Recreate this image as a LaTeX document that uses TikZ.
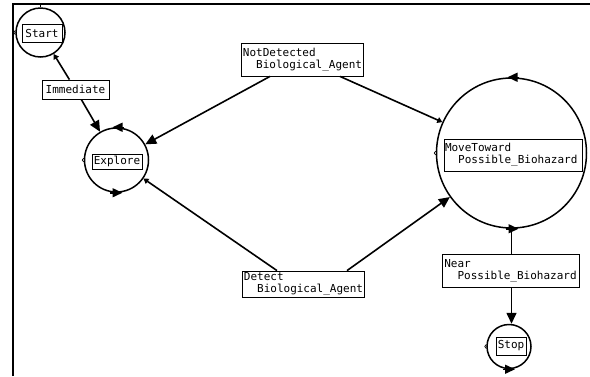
\documentclass[tikz,border=0pt]{standalone}
\usepackage{fontspec}
\newfontfamily\lbfont{DejaVu Sans Mono}
\usetikzlibrary{arrows.meta}
\begin{document}
\begin{tikzpicture}[x=1pt,y=1pt,
  state/.style={circle, draw, line width=1.5pt, inner sep=0pt},
  lbl/.style={draw, line width=0.8pt, fill=white, font=\lbfont\fontsize{11}{12}\selectfont, inner xsep=1pt, inner ysep=1pt, align=left},
  conn/.style={line width=1.6pt},
  tip/.style={-{Triangle[length=11pt,width=10pt]}},
  tail/.style={{Triangle[length=5pt,width=6pt]}-},
  tailtip/.style={{Triangle[length=5pt,width=6pt]}-{Triangle[length=11pt,width=10pt]}},
  mk/.style={line width=1.5pt, -{Triangle[length=10pt,width=9pt]}},
  tick/.style={line width=0.7pt}
]
\useasboundingbox (0,0) rectangle (590,-376);
\draw[line width=1.3pt] (13,-376) -- (13,-4) -- (590,-4);

% states
\node[state, minimum size=49pt] (start) at (40.5,-32.5) {};
\node[state, minimum size=64pt] (explore) at (116.5,-160) {};
\node[state, minimum size=150pt] (move) at (511.5,-153) {};
\node[state, minimum size=44pt] (stop) at (509,-346.5) {};

% circle markers
\draw[tick] (start.north) -- ++(0,2);
\draw[tick] ([yshift=-2pt]start.west) -- ++(-1.5,2) -- ++(1.5,2);
\draw[tick] ([yshift=-2pt]explore.west) -- ++(-1.5,2) -- ++(1.5,2);
\draw[tick] ([yshift=-2pt]move.west) -- ++(-1.5,2) -- ++(1.5,2);
\draw[tick] ([yshift=-2pt]stop.west) -- ++(-1.5,2) -- ++(1.5,2);
\draw[mk] ([xshift=7pt]explore.north) -- ([xshift=-4pt]explore.north);
\draw[mk] ([xshift=-7pt]explore.south) -- ([xshift=6pt]explore.south);
\draw[mk] ([xshift=7pt]move.north) -- ([xshift=-4pt]move.north);
\draw[mk] ([xshift=-6pt]move.south) -- ([xshift=7pt]move.south);
\draw[mk] ([xshift=-6pt]stop.south) -- ([xshift=6pt]stop.south);

% labels
\node[lbl, minimum width=40pt, minimum height=18pt] (startL) at (42,-33) {Start};
\node[lbl, minimum width=67pt, minimum height=19pt] (imm) at (75.5,-89.5) {Immediate};
\node[lbl, minimum width=50pt, minimum height=15pt] (exploreL) at (117,-161.5) {Explore};
\node[lbl, minimum width=30pt, minimum height=18pt] (stopL) at (511,-346) {Stop};
\node[lbl, minimum height=33pt] (nd) at (302.5,-59.5) {NotDetected\\\phantom{xx}Biological\_Agent};
\node[lbl, minimum height=26pt] (det) at (303.5,-284) {Detect\\\phantom{xx}Biological\_Agent};
\node[lbl, text width=136pt, minimum height=32pt] (moveL) at (513,-155) {MoveToward\\\phantom{xx}Possible\_Biohazard};
\node[lbl, minimum width=137pt, minimum height=33pt] (near) at (510.5,-270.5) {Near\\\phantom{xx}Possible\_Biohazard};

% connectors
\draw[conn, tail] (start) -- (imm);
\draw[conn, tip] (imm) -- (explore);
\draw[conn, tail] (move) -- ([xshift=37.5pt]nd.south);
\draw[conn, tip] ([xshift=-32.5pt]nd.south) -- (explore);
\draw[conn, tail] (explore) -- ([xshift=-26.5pt]det.north);
\draw[conn, tip] ([xshift=43.5pt]det.north) -- (move);
\draw[conn] (move.south) -- (move.south |- near.north);
\draw[conn, tip] (near.south -| move.south) -- (stop.north -| move.south);
\end{tikzpicture}
\end{document}
